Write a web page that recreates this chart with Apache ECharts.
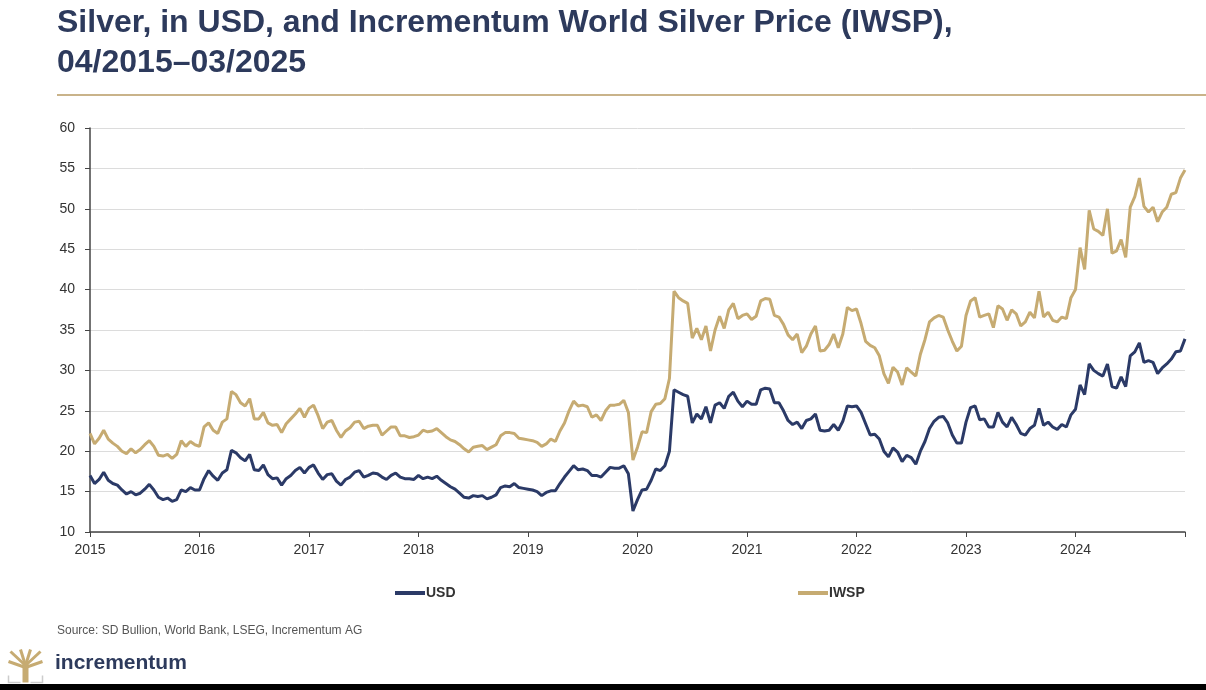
<!DOCTYPE html>
<html>
<head>
<meta charset="utf-8">
<script src="https://cdn.jsdelivr.net/npm/echarts@6/dist/echarts.min.js"></script>
<style>
  html, body { margin: 0; padding: 0; background: #fff; }
  #chart { width: 1206px; height: 690px; }
</style>
</head>
<body>
<div id="chart"></div>
<script>
// half-monthly readings, chart axis starts at "2015"
var startYear = 2015;
var perYear = 24;

var usd2015 = [17.0,16.0,16.5,17.4,16.4,16.0,15.8,15.2,14.7,15.0,14.6,14.8,15.3,15.9,15.2,14.3,14.0,14.2,13.8,14.0,15.2,15.0,15.5,15.2];
var usd2016 = [15.2,16.6,17.6,16.9,16.4,17.3,17.7,20.1,19.8,19.2,18.8,19.6,17.7,17.6,18.3,17.1,16.6,16.7,15.8,16.6,17.0,17.6,18.0,17.3];
var usd2017 = [18.0,18.3,17.3,16.5,17.1,17.2,16.3,15.8,16.5,16.8,17.4,17.6,16.8,17.0,17.3,17.2,16.8,16.5,17.0,17.3,16.8,16.6,16.6,16.5];
var usd2018 = [17.0,16.6,16.8,16.6,16.9,16.4,16.0,15.6,15.3,14.8,14.3,14.2,14.5,14.4,14.5,14.1,14.3,14.6,15.5,15.7,15.6,16.0,15.5,15.4];
var usd2019 = [15.3,15.2,15.0,14.5,14.9,15.1,15.1,16.0,16.8,17.5,18.2,17.7,17.8,17.6,17.0,17.0,16.8,17.4,18.0,17.9,17.9,18.2,17.2,12.6];
var usd2020 = [14.0,15.2,15.3,16.4,17.8,17.6,18.2,20.0,27.6,27.3,27.0,26.8,23.5,24.6,24.0,25.5,23.5,25.7,26.0,25.3,26.8,27.3,26.2,25.5];
var usd2021 = [26.2,25.8,25.8,27.6,27.8,27.7,26.0,26.0,25.0,23.8,23.3,23.6,22.8,23.8,24.0,24.6,22.6,22.5,22.6,23.3,22.6,23.7,25.6,25.5];
var usd2022 = [25.6,24.8,23.4,22.0,22.1,21.5,20.0,19.3,20.4,19.9,18.7,19.5,19.2,18.4,20.0,21.2,22.8,23.7,24.2,24.3,23.5,22.0,21.0,21.0];
var usd2023 = [23.6,25.4,25.6,23.9,24.0,23.0,23.0,24.8,23.6,23.0,24.2,23.3,22.2,22.0,22.8,23.2,25.3,23.2,23.6,23.0,22.7,23.3,23.0,24.5];
var usd2024 = [25.2,28.2,27.0,30.8,30.0,29.6,29.3,30.8,28.0,27.8,29.2,28.0,31.8,32.3,33.4,31.0,31.2,31.0,29.6,30.3,30.8,31.4,32.3,32.4,33.9];

var iwsp2015 = [22.2,20.9,21.6,22.6,21.5,21.0,20.6,20.0,19.7,20.3,19.8,20.2,20.8,21.3,20.6,19.5,19.4,19.6,19.1,19.6,21.3,20.6,21.2,20.8];
var iwsp2016 = [20.6,23.0,23.5,22.6,22.2,23.6,24.0,27.4,27.0,26.0,25.6,26.5,24.0,24.0,24.8,23.5,23.2,23.3,22.3,23.4,24.0,24.6,25.3,24.2];
var iwsp2017 = [25.3,25.7,24.4,22.8,23.6,23.8,22.6,21.7,22.5,22.9,23.6,23.7,22.8,23.1,23.2,23.2,22.0,22.5,23.0,23.0,21.9,21.9,21.7,21.8];
var iwsp2018 = [22.0,22.6,22.4,22.5,22.8,22.3,21.8,21.4,21.2,20.8,20.3,19.9,20.5,20.6,20.7,20.2,20.5,20.8,21.9,22.3,22.3,22.2,21.6,21.5];
var iwsp2019 = [21.4,21.3,21.1,20.6,20.9,21.5,21.2,22.5,23.5,25.0,26.2,25.6,25.7,25.5,24.2,24.5,23.8,25.0,25.7,25.7,25.8,26.3,24.8,18.9];
var iwsp2020 = [20.5,22.4,22.3,24.9,25.8,25.9,26.5,29.0,39.8,39.0,38.6,38.3,34.0,35.2,33.8,35.5,32.4,35.0,36.7,35.2,37.5,38.3,36.4,36.8];
var iwsp2021 = [37.0,36.3,36.7,38.6,38.9,38.8,36.8,36.6,35.7,34.4,33.8,34.5,32.2,33.0,34.5,35.5,32.4,32.5,33.2,34.5,32.8,34.5,37.8,37.4];
var iwsp2022 = [37.6,35.8,33.6,33.1,32.8,31.8,29.6,28.4,30.4,29.8,28.2,30.3,29.8,29.3,32.0,33.8,36.0,36.5,36.8,36.6,35.0,33.6,32.4,33.0];
var iwsp2023 = [36.8,38.6,39.0,36.6,36.8,37.0,35.3,38.0,37.6,36.2,37.5,37.0,35.5,36.0,37.2,36.5,39.8,36.6,37.2,36.2,36.0,36.6,36.4,39.0];
var iwsp2024 = [40.0,45.2,42.5,49.8,47.5,47.2,46.7,50.0,44.5,44.8,46.2,44.0,50.2,51.5,53.8,50.3,49.6,50.2,48.4,49.6,50.2,51.8,52.0,53.8,54.8];

var usdValues = [].concat(usd2015, usd2016, usd2017, usd2018, usd2019, usd2020, usd2021, usd2022, usd2023, usd2024);
var iwspValues = [].concat(iwsp2015, iwsp2016, iwsp2017, iwsp2018, iwsp2019, iwsp2020, iwsp2021, iwsp2022, iwsp2023, iwsp2024);

var yTicks = [10, 15, 20, 25, 30, 35, 40, 45, 50, 55, 60];
var xYears = [2015, 2016, 2017, 2018, 2019, 2020, 2021, 2022, 2023, 2024];

var navy = "#2b3a67";
var gold = "#c6ab72";

function toPoints(vals) {
  var out = [];
  for (var i = 0; i < vals.length; i++) {
    out.push([startYear + i / perYear, vals[i]]);
  }
  return out;
}

var chart = echarts.init(document.getElementById("chart"));
var option = {
  backgroundColor: "#fff",
  animation: false,
  textStyle: { fontFamily: "Liberation Sans, Arial, sans-serif" },
  grid: { left: 90, right: 21, top: 128, bottom: 158 },
  xAxis: {
    type: "value",
    min: 2015,
    max: 2025,
    interval: 1,
    splitLine: { show: false },
    axisLine: { lineStyle: { color: "#444", width: 1.5 } },
    axisTick: { show: true, length: 5, lineStyle: { color: "#444" } },
    axisLabel: {
      color: "#333",
      fontSize: 14,
      margin: 11,
      formatter: function (v) {
        return xYears.indexOf(v) >= 0 ? String(v) : "";
      }
    }
  },
  yAxis: {
    type: "value",
    min: yTicks[0],
    max: yTicks[yTicks.length - 1],
    interval: 5,
    axisLine: { show: true, lineStyle: { color: "#444", width: 1.5 } },
    axisTick: { show: true, length: 5, lineStyle: { color: "#444" } },
    axisLabel: { color: "#333", fontSize: 14, margin: 15 },
    splitLine: { lineStyle: { color: "#dcdcdc", width: 1 } }
  },
  legend: [
    {
      data: ["USD"],
      left: 390,
      top: 581,
      icon: "rect",
      itemWidth: 30,
      itemHeight: 4,
      textStyle: { color: "#333", fontSize: 14, fontWeight: "bold", padding: [0, 0, 0, -4] }
    },
    {
      data: ["IWSP"],
      left: 793,
      top: 581,
      icon: "rect",
      itemWidth: 30,
      itemHeight: 4,
      textStyle: { color: "#333", fontSize: 14, fontWeight: "bold", padding: [0, 0, 0, -4] }
    }
  ],
  series: [
    {
      name: "USD",
      type: "line",
      data: toPoints(usdValues),
      showSymbol: false,
      color: navy,
      lineStyle: { width: 3, color: navy },
      z: 3
    },
    {
      name: "IWSP",
      type: "line",
      data: toPoints(iwspValues),
      showSymbol: false,
      color: gold,
      lineStyle: { width: 3, color: gold },
      z: 2
    }
  ],
  graphic: [
    {
      type: "text",
      left: 57,
      top: 3,
      style: {
        text: "Silver, in USD, and Incrementum World Silver Price (IWSP),\n04/2015\u201303/2025",
        fill: "#2d3a5c",
        font: "bold 32px 'Liberation Sans', Arial, sans-serif",
        lineHeight: 40
      }
    },
    {
      type: "rect",
      shape: { x: 57, y: 94, width: 1149, height: 2 },
      style: { fill: "#c9b38a" }
    },
    {
      type: "text",
      left: 57,
      top: 625,
      style: {
        text: "Source: SD Bullion, World Bank, LSEG, Incrementum AG",
        fill: "#555",
        font: "12px 'Liberation Sans', Arial, sans-serif"
      }
    },
    {
      type: "group",
      left: 6,
      top: 647,
      children: [
        { type: "rect", shape: { x: 14, y: 14, width: 6, height: 19 }, style: { fill: gold } },
        { type: "line", shape: { x1: 17, y1: 16, x2: 2, y2: 2 }, style: { stroke: gold, lineWidth: 3 } },
        { type: "line", shape: { x1: 17, y1: 16, x2: 32, y2: 2 }, style: { stroke: gold, lineWidth: 3 } },
        { type: "line", shape: { x1: 17, y1: 16, x2: 12, y2: 0 }, style: { stroke: gold, lineWidth: 3 } },
        { type: "line", shape: { x1: 17, y1: 16, x2: 22, y2: 0 }, style: { stroke: gold, lineWidth: 3 } },
        { type: "line", shape: { x1: 17, y1: 18, x2: 0, y2: 12 }, style: { stroke: gold, lineWidth: 3 } },
        { type: "line", shape: { x1: 17, y1: 18, x2: 34, y2: 12 }, style: { stroke: gold, lineWidth: 3 } },
        { type: "polyline", shape: { points: [[0, 26], [0, 33], [12, 33]] }, style: { fill: "none", stroke: "#ccc", lineWidth: 1.5 } },
        { type: "polyline", shape: { points: [[22, 33], [34, 33], [34, 26]] }, style: { fill: "none", stroke: "#ccc", lineWidth: 1.5 } }
      ]
    },
    {
      type: "text",
      left: 55,
      top: 653,
      style: {
        text: "incrementum",
        fill: "#2d3a5c",
        font: "bold 21px 'Liberation Sans', Arial, sans-serif"
      }
    },
    {
      type: "rect",
      shape: { x: 0, y: 684, width: 1206, height: 6 },
      style: { fill: "#000" }
    }
  ]
};

option && chart.setOption(option);
</script>
</body>
</html>
